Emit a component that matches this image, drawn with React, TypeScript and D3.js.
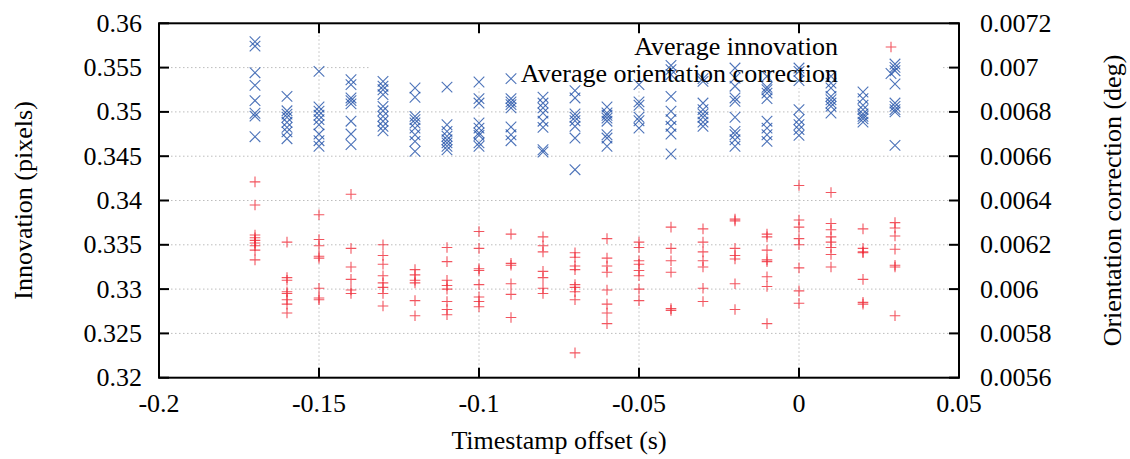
import React from 'react';
import * as d3 from 'd3';

// time offsets tried (s)
const offsets = [-0.17, -0.16, -0.15, -0.14, -0.13, -0.12, -0.11, -0.1, -0.09, -0.08, -0.07,
  -0.06, -0.05, -0.04, -0.03, -0.02, -0.01, 0, 0.01, 0.02, 0.03];

// average innovation (pixels), one row per offset
const innovation = [
  [0.3421, 0.3395, 0.3361, 0.3358, 0.3355, 0.3352, 0.3349, 0.3344, 0.3333],
  [0.3353, 0.3313, 0.3310, 0.3297, 0.3295, 0.3288, 0.3283, 0.3273],
  [0.3384, 0.3356, 0.3349, 0.3337, 0.3335, 0.3301, 0.3290, 0.3288],
  [0.3407, 0.3346, 0.3325, 0.3311, 0.3299, 0.3295],
  [0.3350, 0.3338, 0.3328, 0.3315, 0.3307, 0.3302, 0.3295, 0.3281],
  [0.3322, 0.3316, 0.3310, 0.3307, 0.3287, 0.3270],
  [0.3347, 0.3331, 0.3310, 0.3304, 0.3300, 0.3286, 0.3277, 0.3271],
  [0.3365, 0.3346, 0.3323, 0.3321, 0.3305, 0.3291, 0.3286, 0.3280],
  [0.3362, 0.3329, 0.3327, 0.3306, 0.3294, 0.3268],
  [0.3359, 0.3349, 0.3342, 0.3320, 0.3313, 0.3301, 0.3295],
  [0.3341, 0.3336, 0.3326, 0.3322, 0.3305, 0.3302, 0.3297, 0.3288, 0.3228],
  [0.3357, 0.3335, 0.3326, 0.3319, 0.3299, 0.3283, 0.3273, 0.3261],
  [0.3353, 0.3347, 0.3332, 0.3328, 0.3321, 0.3315, 0.3300, 0.3287],
  [0.3370, 0.3346, 0.3332, 0.3319, 0.3278, 0.3276],
  [0.3368, 0.3353, 0.3342, 0.3332, 0.3325, 0.3301, 0.3286],
  [0.3379, 0.3377, 0.3346, 0.3338, 0.3334, 0.3306, 0.3277],
  [0.3362, 0.3359, 0.3344, 0.3333, 0.3331, 0.3314, 0.3303, 0.3261],
  [0.3417, 0.3378, 0.3370, 0.3357, 0.3350, 0.3324, 0.3298, 0.3284],
  [0.3409, 0.3374, 0.3367, 0.3359, 0.3353, 0.3347, 0.3339, 0.3325],
  [0.3368, 0.3346, 0.3342, 0.3341, 0.3311, 0.3285, 0.3283],
  [0.3375, 0.3369, 0.3360, 0.3345, 0.3327, 0.3325, 0.3270],
];

// average orientation correction (deg), one row per offset
const orientation = [
  [0.007117, 0.007097, 0.006977, 0.00692, 0.006851, 0.006794, 0.006781, 0.006688],
  [0.00687, 0.006805, 0.00679, 0.006776, 0.006753, 0.00673, 0.00671, 0.006679],
  [0.006983, 0.006822, 0.006803, 0.006785, 0.006765, 0.006742, 0.0067, 0.00667, 0.006645],
  [0.006945, 0.006923, 0.006863, 0.006851, 0.006836, 0.006758, 0.0067, 0.006652],
  [0.006938, 0.006916, 0.0069, 0.006878, 0.006825, 0.006805, 0.00678, 0.006758, 0.006735, 0.006715],
  [0.006908, 0.006866, 0.00678, 0.006765, 0.00675, 0.006727, 0.006697, 0.006667, 0.006622],
  [0.006912, 0.006742, 0.006712, 0.00669, 0.006674, 0.00666, 0.006645, 0.006629],
  [0.006935, 0.00686, 0.00684, 0.00675, 0.006727, 0.006705, 0.006694, 0.00666, 0.006645],
  [0.00695, 0.00686, 0.006845, 0.006833, 0.006818, 0.006732, 0.006697, 0.00667],
  [0.006866, 0.00684, 0.006818, 0.006795, 0.006758, 0.00673, 0.006629, 0.006619],
  [0.006896, 0.006863, 0.006791, 0.006776, 0.00676, 0.006735, 0.006682, 0.006539],
  [0.006822, 0.006795, 0.006785, 0.006772, 0.006758, 0.006697, 0.006682, 0.006645],
  [0.006923, 0.006845, 0.00683, 0.006776, 0.00676, 0.006727],
  [0.00701, 0.006991, 0.006968, 0.00687, 0.006803, 0.006765, 0.006735, 0.0067, 0.00661],
  [0.00695, 0.006938, 0.00684, 0.00681, 0.006791, 0.006776, 0.006754, 0.006735],
  [0.006998, 0.006953, 0.006916, 0.006863, 0.006848, 0.006776, 0.006712, 0.006697, 0.006674, 0.006645],
  [0.006961, 0.006911, 0.0069, 0.006885, 0.00686, 0.006758, 0.006727, 0.006697, 0.006667],
  [0.006998, 0.006983, 0.006941, 0.00681, 0.006765, 0.006742, 0.00672, 0.006694],
  [0.006961, 0.00693, 0.006908, 0.00687, 0.006855, 0.00684, 0.006825, 0.006795],
  [0.00689, 0.00686, 0.00683, 0.00681, 0.006791, 0.00678, 0.006769, 0.006754],
  [0.007016, 0.007001, 0.006986, 0.006926, 0.00684, 0.006825, 0.00681, 0.0068, 0.006649],
];

const xTicks = [-0.2, -0.15, -0.1, -0.05, 0, 0.05];
const yTicks = [0.32, 0.325, 0.33, 0.335, 0.34, 0.345, 0.35, 0.355, 0.36];
const y2Ticks = [0.0056, 0.0058, 0.006, 0.0062, 0.0064, 0.0066, 0.0068, 0.007, 0.0072];
const seriesNames = ['Average innovation', 'Average orientation correction'];

const RED = '#ee1c2a';
const BLUE = '#2050a8';
const FONT = '"Liberation Serif", "Times New Roman", serif';
const FS = 26;

const W = 1130, H = 459;
const left = 159, right = 959, top = 23.3, bottom = 377.7;
const tickLen = 10;
const ms = 5.3; // marker half size

const Plus = ({ x, y }: { x: number; y: number }) => (
  <path d={`M${x - ms},${y}H${x + ms}M${x},${y - ms}V${y + ms}`} stroke={RED} strokeWidth={1.1} strokeOpacity={0.75} fill="none" />
);
const Cross = ({ x, y }: { x: number; y: number }) => (
  <path d={`M${x - ms},${y - ms}L${x + ms},${y + ms}M${x - ms},${y + ms}L${x + ms},${y - ms}`} stroke={BLUE} strokeWidth={1.1} strokeOpacity={0.8} fill="none" />
);

export default function App() {
  const x = d3.scaleLinear().domain([-0.2, 0.05]).range([left, right]);
  const y = d3.scaleLinear().domain([0.32, 0.36]).range([bottom, top]);
  const y2 = d3.scaleLinear().domain([0.0056, 0.0072]).range([bottom, top]);

  // key box: gnuplot keeps grid lines out of it
  const key = { x0: 370, x1: 943, y0: top, y1: 88 };

  return (
    <svg width={W} height={H} style={{ position: 'absolute', left: 0, top: 0, background: '#fff' }} fontFamily={FONT}>
      <defs>
        <mask id="gridmask">
          <rect x={0} y={0} width={W} height={H} fill="#fff" />
          <rect x={key.x0} y={key.y0} width={key.x1 - key.x0} height={key.y1 - key.y0} fill="#000" />
        </mask>
      </defs>

      {/* grid */}
      <g mask="url(#gridmask)" stroke="#bdbdbd" strokeWidth={1} strokeDasharray="1.5,2.5">
        {xTicks.slice(1, -1).map(t => (
          <line key={'gx' + t} x1={x(t)} x2={x(t)} y1={top} y2={bottom} />
        ))}
        {yTicks.slice(1, -1).map(t => (
          <line key={'gy' + t} x1={left} x2={right} y1={y(t)} y2={y(t)} />
        ))}
      </g>

      {/* points */}
      <g>
        {offsets.map((o, i) => innovation[i].map((v, j) => (
          <Plus key={`r${i}-${j}`} x={x(o)} y={y(v)} />
        )))}
        {offsets.map((o, i) => orientation[i].map((v, j) => (
          <Cross key={`b${i}-${j}`} x={x(o)} y={y2(v)} />
        )))}
      </g>

      {/* border and ticks */}
      <g stroke="#000" strokeWidth={2} fill="none">
        <rect x={left} y={top} width={right - left} height={bottom - top} />
        {xTicks.map(t => (
          <g key={'tx' + t}>
            <line x1={x(t)} x2={x(t)} y1={bottom} y2={bottom - tickLen} />
            <line x1={x(t)} x2={x(t)} y1={top} y2={top + tickLen} />
          </g>
        ))}
        {yTicks.map(t => (
          <line key={'ty' + t} x1={left} x2={left + tickLen} y1={y(t)} y2={y(t)} />
        ))}
        {y2Ticks.map(t => (
          <line key={'ty2' + t} x1={right} x2={right - tickLen} y1={y2(t)} y2={y2(t)} />
        ))}
      </g>

      {/* tick labels */}
      <g fontSize={FS} fill="#000">
        {yTicks.map(t => (
          <text key={'ly' + t} x={142} y={y(t)} textAnchor="end" dominantBaseline="central">{String(t)}</text>
        ))}
        {y2Ticks.map(t => (
          <text key={'ly2' + t} x={980} y={y2(t)} textAnchor="start" dominantBaseline="central">{String(t)}</text>
        ))}
        {xTicks.map(t => (
          <text key={'lx' + t} x={x(t)} y={412} textAnchor="middle">{String(t)}</text>
        ))}
      </g>

      {/* axis titles */}
      <g fontSize={FS} fill="#000">
        <text x={x(-0.075)} y={449} textAnchor="middle">Timestamp offset (s)</text>
        <text transform={`translate(23,${(top + bottom) / 2}) rotate(-90)`} textAnchor="middle" dominantBaseline="central">Innovation (pixels)</text>
        <text transform={`translate(1112,${(top + bottom) / 2}) rotate(-90)`} textAnchor="middle" dominantBaseline="central">Orientation correction (deg)</text>
      </g>

      {/* key */}
      <g fontSize={FS} fill="#000">
        <text x={838} y={55} textAnchor="end">{seriesNames[0]}</text>
        <Plus x={891} y={47} />
        <text x={838} y={81.5} textAnchor="end">{seriesNames[1]}</text>
        <Cross x={891} y={73.5} />
      </g>
    </svg>
  );
}
